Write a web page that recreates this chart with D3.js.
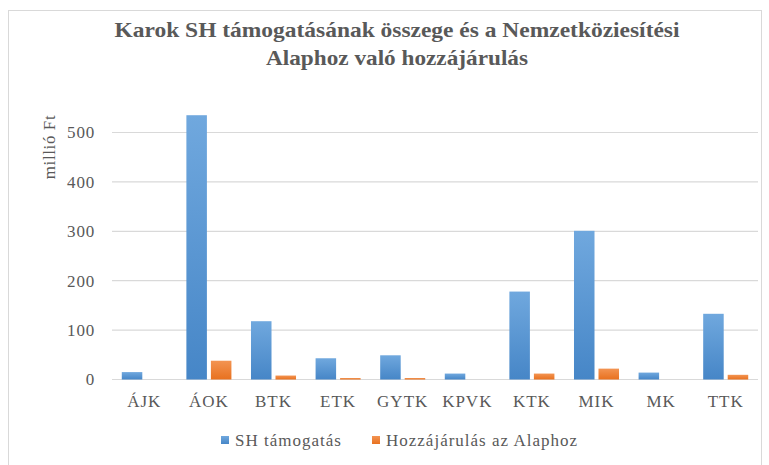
<!DOCTYPE html>
<html>
<head>
<meta charset="utf-8">
<script src="https://cdn.jsdelivr.net/npm/d3@7"></script>
<style>
  body { margin: 0; background: #fff; }
  svg text { font-family: "Liberation Serif", "Times New Roman", serif; fill: #595959; }
</style>
</head>
<body>
<div id="chart"></div>
<script>
const categories = ['ÁJK', 'ÁOK', 'BTK', 'ETK', 'GYTK', 'KPVK', 'KTK', 'MIK', 'MK', 'TTK'];
const seriesNames = ['SH támogatás', 'Hozzájárulás az Alaphoz'];
const shValues = [15, 535, 118, 43, 49, 12, 178, 301, 14, 133];
const alapValues = [0, 38, 8, 3, 3, 0, 12, 22, 0, 9.5];
const yTicks = [0, 100, 200, 300, 400, 500];
const titleLines = ['Karok SH támogatásának összege és a Nemzetköziesítési', 'Alaphoz való hozzájárulás'];
const yLabel = 'millió Ft';

const width = 769, height = 465;
const margin = { top: 132.5, right: 11, bottom: 85.5, left: 112 };

const svg = d3.select('#chart').append('svg')
  .attr('width', width)
  .attr('height', height);

// gradients for the bars
const defs = svg.append('defs');
const colors = [['#70a8de', '#4686c7'], ['#f39452', '#e8711f']];
colors.forEach((c, i) => {
  const g = defs.append('linearGradient')
    .attr('id', 'grad' + i)
    .attr('x1', 0).attr('y1', 0).attr('x2', 0).attr('y2', 1);
  g.append('stop').attr('offset', '0%').attr('stop-color', c[0]);
  g.append('stop').attr('offset', '100%').attr('stop-color', c[1]);
});

// chart frame
svg.append('rect')
  .attr('x', 8.5).attr('y', 10.5)
  .attr('width', 753).attr('height', 470)
  .attr('fill', 'none')
  .attr('stroke', '#d9d9d9');

const x = d3.scaleBand()
  .domain(categories)
  .range([margin.left, width - margin.right])
  .paddingInner(0.303)
  .paddingOuter(0.1515);

const x1 = d3.scaleBand()
  .domain(seriesNames)
  .range([0, x.bandwidth()])
  .paddingInner(0.163);

const y = d3.scaleLinear()
  .domain([0, 500])
  .range([height - margin.bottom, margin.top]);

// gridlines
svg.append('g')
  .selectAll('line')
  .data(yTicks)
  .join('line')
  .attr('x1', margin.left)
  .attr('x2', width - margin.right)
  .attr('y1', d => y(d))
  .attr('y2', d => y(d))
  .attr('stroke', '#d9d9d9')
  .attr('stroke-width', 1.2);

// y tick labels
svg.append('g')
  .selectAll('text')
  .data(yTicks)
  .join('text')
  .attr('x', 95)
  .attr('y', d => y(d))
  .attr('dy', '0.35em')
  .attr('text-anchor', 'end')
  .attr('font-size', 17)
  .attr('letter-spacing', 0.8)
  .text(d => d);

// bars
const rows = categories.map((c, i) => ({ cat: c, vals: [shValues[i], alapValues[i]] }));
const groups = svg.append('g')
  .selectAll('g')
  .data(rows)
  .join('g')
  .attr('transform', d => `translate(${x(d.cat)},0)`);

groups.selectAll('rect')
  .data(d => d.vals.map((v, i) => ({ name: seriesNames[i], v, i })))
  .join('rect')
  .attr('x', d => x1(d.name))
  .attr('width', x1.bandwidth())
  .attr('y', d => y(d.v))
  .attr('height', d => y(0) - y(d.v))
  .attr('fill', d => `url(#grad${d.i})`);

// category labels
svg.append('g')
  .selectAll('text')
  .data(categories)
  .join('text')
  .attr('x', d => x(d) + x.bandwidth() / 2)
  .attr('y', 407)
  .attr('text-anchor', 'middle')
  .attr('font-size', 17)
  .attr('letter-spacing', 1)
  .text(d => d);

// y axis label
svg.append('text')
  .attr('transform', 'translate(55,147) rotate(-90)')
  .attr('text-anchor', 'middle')
  .attr('font-size', 17)
  .attr('letter-spacing', 0.6)
  .text(yLabel);

// title
svg.append('g')
  .selectAll('text')
  .data(titleLines)
  .join('text')
  .attr('x', 397)
  .attr('y', (d, i) => 37 + i * 28)
  .attr('text-anchor', 'middle')
  .attr('font-size', 22)
  .attr('font-weight', 'bold')
  .attr('textLength', (d, i) => i === 0 ? 565 : 262)
  .attr('lengthAdjust', 'spacingAndGlyphs')
  .text(d => d);

// legend
const legendX = [221, 372];
const legend = svg.append('g')
  .selectAll('g')
  .data(seriesNames)
  .join('g')
  .attr('transform', (d, i) => `translate(${legendX[i]},436)`);

legend.append('rect')
  .attr('width', 8).attr('height', 8)
  .attr('fill', (d, i) => `url(#grad${i})`);

legend.append('text')
  .attr('x', 14)
  .attr('y', 4)
  .attr('dy', '0.35em')
  .attr('font-size', 17)
  .attr('letter-spacing', 1)
  .text(d => d);
</script>
</body>
</html>
